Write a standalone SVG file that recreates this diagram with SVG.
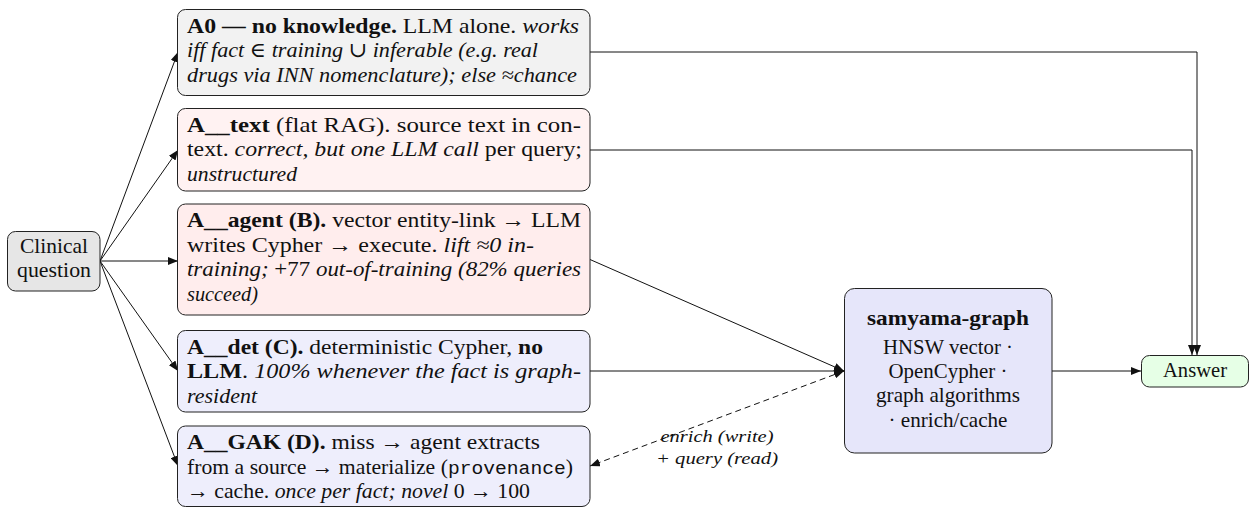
<svg xmlns="http://www.w3.org/2000/svg" width="1250" height="507" viewBox="0 0 1250 507">
<style>
text{font-family:"Liberation Serif","DejaVu Serif",serif;font-size:21px;fill:#111}
.b{font-weight:bold}
.i{font-style:italic}
.m{font-family:"Liberation Mono","DejaVu Sans Mono",monospace;font-size:19px}
.c{text-anchor:middle}
.lbl{font-size:17px;font-style:italic}
.box{stroke:#222;stroke-width:1}
.edge{fill:none;stroke:#111;stroke-width:1}
.dash{stroke-dasharray:6 4}
</style>
<defs>
<marker id="ah" markerUnits="userSpaceOnUse" markerWidth="11" markerHeight="8" refX="10" refY="4" orient="auto-start-reverse">
<path d="M0,0 L10,4 L0,8 z" fill="#111"/>
</marker>
</defs>
<rect width="1250" height="507" fill="#fff"/>

<g id="connectors">
<path class="edge" d="M100,261 L178,52" marker-end="url(#ah)"/>
<path class="edge" d="M100,261 L178,150" marker-end="url(#ah)"/>
<path class="edge" d="M100,261 L178,261" marker-end="url(#ah)"/>
<path class="edge" d="M100,261 L178,371" marker-end="url(#ah)"/>
<path class="edge" d="M100,261 L178,466" marker-end="url(#ah)"/>
<path class="edge" d="M590,52 L1197,52 L1197,355" marker-end="url(#ah)"/>
<path class="edge" d="M590,150 L1192,150 L1192,355" marker-end="url(#ah)"/>
<path class="edge" d="M590,259.5 L844,371" marker-end="url(#ah)"/>
<path class="edge" d="M590,371 L844,371" marker-end="url(#ah)"/>
<path class="edge dash" d="M844,371 L590,466" marker-start="url(#ah)" marker-end="url(#ah)"/>
<path class="edge" d="M1052,371 L1141,371" marker-end="url(#ah)"/>
<text class="lbl c" x="717" y="442" textLength="113" lengthAdjust="spacingAndGlyphs">enrich (write)</text>
<text class="lbl c" x="717" y="463.5" textLength="122" lengthAdjust="spacingAndGlyphs">+ query (read)</text>
</g>

<g id="question">
<rect class="box" x="7.5" y="231.5" width="92.5" height="59.5" rx="8" fill="#e6e6e6"/>
<text class="c" x="54" y="253" textLength="68" lengthAdjust="spacingAndGlyphs">Clinical</text>
<text class="c" x="54" y="277" textLength="74" lengthAdjust="spacingAndGlyphs">question</text>
</g>

<g id="A0">
<rect class="box" x="177.5" y="9.5" width="412.5" height="86" rx="8" fill="#f2f2f2"/>
<text x="187" y="32.5" textLength="392" lengthAdjust="spacingAndGlyphs"><tspan class="b">A0 — no knowledge.</tspan> LLM alone. <tspan class="i">works</tspan></text>
<text class="i" x="187" y="57" textLength="351" lengthAdjust="spacingAndGlyphs">iff fact ∈ training ∪ inferable (e.g. real</text>
<text class="i" x="187" y="81.5" textLength="390" lengthAdjust="spacingAndGlyphs">drugs via INN nomenclature); else ≈chance</text>
</g>

<g id="A_text">
<rect class="box" x="177.5" y="108.5" width="412.5" height="82.5" rx="8" fill="#fff2f2"/>
<text x="187" y="131.5" textLength="394" lengthAdjust="spacingAndGlyphs"><tspan class="b">A__text</tspan> (flat RAG). source text in con-</text>
<text x="187" y="156" textLength="395" lengthAdjust="spacingAndGlyphs">text. <tspan class="i">correct, but one LLM call</tspan> per query;</text>
<text class="i" x="187" y="180.5" textLength="110" lengthAdjust="spacingAndGlyphs">unstructured</text>
</g>

<g id="A_agent">
<rect class="box" x="177.5" y="204" width="412.5" height="111" rx="8" fill="#ffeded"/>
<text x="187" y="227" textLength="394" lengthAdjust="spacingAndGlyphs"><tspan class="b">A__agent (B).</tspan> vector entity-link → LLM</text>
<text x="187" y="251.5" textLength="347" lengthAdjust="spacingAndGlyphs">writes Cypher → execute. <tspan class="i">lift ≈0 in-</tspan></text>
<text x="187" y="276" textLength="394" lengthAdjust="spacingAndGlyphs"><tspan class="i">training;</tspan> +77 <tspan class="i">out-of-training (82% queries</tspan></text>
<text class="i" x="187" y="300.5" textLength="71" lengthAdjust="spacingAndGlyphs">succeed)</text>
</g>

<g id="A_det">
<rect class="box" x="177.5" y="330.5" width="412.5" height="81.5" rx="8" fill="#eeeefc"/>
<text x="187" y="353.5" textLength="356" lengthAdjust="spacingAndGlyphs"><tspan class="b">A__det (C).</tspan> deterministic Cypher, <tspan class="b">no</tspan></text>
<text x="187" y="378" textLength="394" lengthAdjust="spacingAndGlyphs"><tspan class="b">LLM</tspan>. <tspan class="i">100% whenever the fact is graph-</tspan></text>
<text class="i" x="187" y="402.5" textLength="70" lengthAdjust="spacingAndGlyphs">resident</text>
</g>

<g id="A_GAK">
<rect class="box" x="177.5" y="426" width="412.5" height="80.5" rx="8" fill="#eeeefc"/>
<text x="187" y="449" textLength="353" lengthAdjust="spacingAndGlyphs"><tspan class="b">A__GAK (D).</tspan> miss → agent extracts</text>
<text x="187" y="473.5" textLength="386" lengthAdjust="spacingAndGlyphs">from a source → materialize (<tspan class="m">provenance</tspan>)</text>
<text x="187" y="498" textLength="343" lengthAdjust="spacingAndGlyphs">→ cache. <tspan class="i">once per fact; novel</tspan> 0 → 100</text>
</g>

<g id="samyama">
<rect class="box" x="844.5" y="288.5" width="207.5" height="164.5" rx="10" fill="#e6e6fa"/>
<text class="b c" x="948" y="325" textLength="162" lengthAdjust="spacingAndGlyphs">samyama-graph</text>
<text class="c" x="948" y="354" textLength="130" lengthAdjust="spacingAndGlyphs">HNSW vector ·</text>
<text class="c" x="948" y="378" textLength="119" lengthAdjust="spacingAndGlyphs">OpenCypher ·</text>
<text class="c" x="948" y="402" textLength="144" lengthAdjust="spacingAndGlyphs">graph algorithms</text>
<text class="c" x="948" y="427" textLength="119" lengthAdjust="spacingAndGlyphs">· enrich/cache</text>
</g>

<g id="answer">
<rect class="box" x="1141.5" y="355.5" width="107" height="31.5" rx="8" fill="#e6ffe6"/>
<text class="c" x="1195" y="377" textLength="64" lengthAdjust="spacingAndGlyphs">Answer</text>
</g>
</svg>
